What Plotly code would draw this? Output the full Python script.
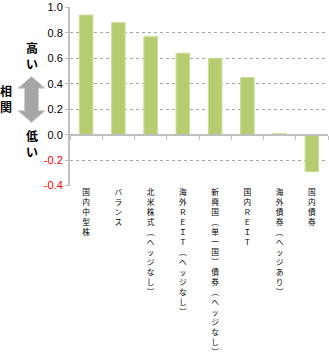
import plotly.graph_objects as go

categories = ["国内中型株", "バランス", "北米株式（ヘッジなし）", "海外ＲＥＩＴ（ヘッジなし）",
              "新興国（単一国）債券（ヘッジなし）", "国内ＲＥＩＴ", "海外債券（ヘッジあり）", "国内債券"]
values = [0.94, 0.88, 0.77, 0.64, 0.60, 0.45, 0.008, -0.29]
y_ticks = [-0.4, -0.2, 0.0, 0.2, 0.4, 0.6, 0.8, 1.0]

W, H = 329, 358
L, R, T, B = 70, 1, 5, 170
Y_MIN, Y_MAX = -0.4, 1.0
EPS = 0.003

def vert(s):
    s = s.replace("（", "︵").replace("）", "︶")
    return "<br>".join(list(s))

def tick_text(v):
    t = f"{v:.1f}"
    if v < 0:
        return f'<span style="color:#ff0000">{t}</span>'
    return t

pw = W - L - R
ph = H - T - B
def px(x):
    return (x - L) / pw
def py(y):
    return (H - B - y) / ph

idx = list(range(len(categories)))

fig = go.Figure()
fig.add_trace(go.Bar(
    x=idx, y=values, width=0.42,
    marker=dict(color="#b5cd70", line=dict(color="#cddf97", width=1)),
    hoverinfo="skip", showlegend=False,
))
fig.add_trace(go.Scatter(x=[idx[0]], y=[0], xaxis="x2", yaxis="y",
                         mode="markers", marker=dict(opacity=0),
                         hoverinfo="skip", showlegend=False))

zero_pos = (0 - (Y_MIN - EPS)) / ((Y_MAX + EPS) - (Y_MIN - EPS))

fig.update_layout(
    width=W, height=H,
    margin=dict(l=L, r=R, t=T, b=B, pad=0),
    paper_bgcolor="white", plot_bgcolor="white",
    font=dict(family="Liberation Sans, Arial, Noto Sans CJK JP", color="#000000"),
    xaxis=dict(
        range=[-0.5, len(categories) - 0.5],
        tickvals=idx, ticktext=[vert(c) for c in categories],
        tickfont=dict(size=7.7, family="Noto Sans CJK JP", color="#000000"),
        ticks="", showgrid=False, showline=False, zeroline=False,
        tickangle=0, ticklabeloverflow="allow",
    ),
    xaxis2=dict(
        overlaying="x", anchor="free", position=zero_pos,
        range=[-0.5, len(categories) - 0.5],
        tickvals=[i - 0.5 for i in range(len(categories) + 1)],
        ticks="outside", ticklen=4, tickcolor="#bfbfbf", tickwidth=1,
        showticklabels=False, showgrid=False, zeroline=False,
        showline=True, linecolor="#bfbfbf", linewidth=2,
    ),
    yaxis=dict(
        range=[Y_MIN - EPS, Y_MAX + EPS],
        tickvals=y_ticks, ticktext=[tick_text(v) for v in y_ticks],
        tickfont=dict(size=11, color="#000000"),
        ticks="outside", ticklen=3, tickcolor="#bfbfbf",
        showgrid=True, gridcolor="#a6a6a6", griddash="dot", gridwidth=1,
        zeroline=False, showline=True, linecolor="#c0c0c0", linewidth=2,
        ticklabeloverflow="allow",
    ),
    bargap=0.58,
)

# left-side annotation: 高い / 相関 / 低い with double arrow
ann_font = dict(size=12, color="#000000", family="Noto Sans CJK JP")
fig.add_annotation(x=px(31.5), y=py(54.5), xref="paper", yref="paper",
                   text="<b>高<br>い</b>", showarrow=False, font=ann_font,
                   xanchor="center", yanchor="middle")
fig.add_annotation(x=px(6), y=py(98.5), xref="paper", yref="paper",
                   text="<b>相<br>関</b>", showarrow=False, font=ann_font,
                   xanchor="center", yanchor="middle")
fig.add_annotation(x=px(31.5), y=py(144.5), xref="paper", yref="paper",
                   text="<b>低<br>い</b>", showarrow=False, font=ann_font,
                   xanchor="center", yanchor="middle")

pts = [(31.5, 76), (45, 88), (38.5, 88), (38.5, 111), (45, 111), (31.5, 123),
       (18, 111), (24.5, 111), (24.5, 88), (18, 88)]
path = "M " + " L ".join(f"{px(a):.4f},{py(b):.4f}" for a, b in pts) + " Z"
fig.add_shape(type="path", path=path, xref="paper", yref="paper",
              fillcolor="#a6a6a6", line=dict(color="#cccccc", width=1))

fig.write_html("out.html")
